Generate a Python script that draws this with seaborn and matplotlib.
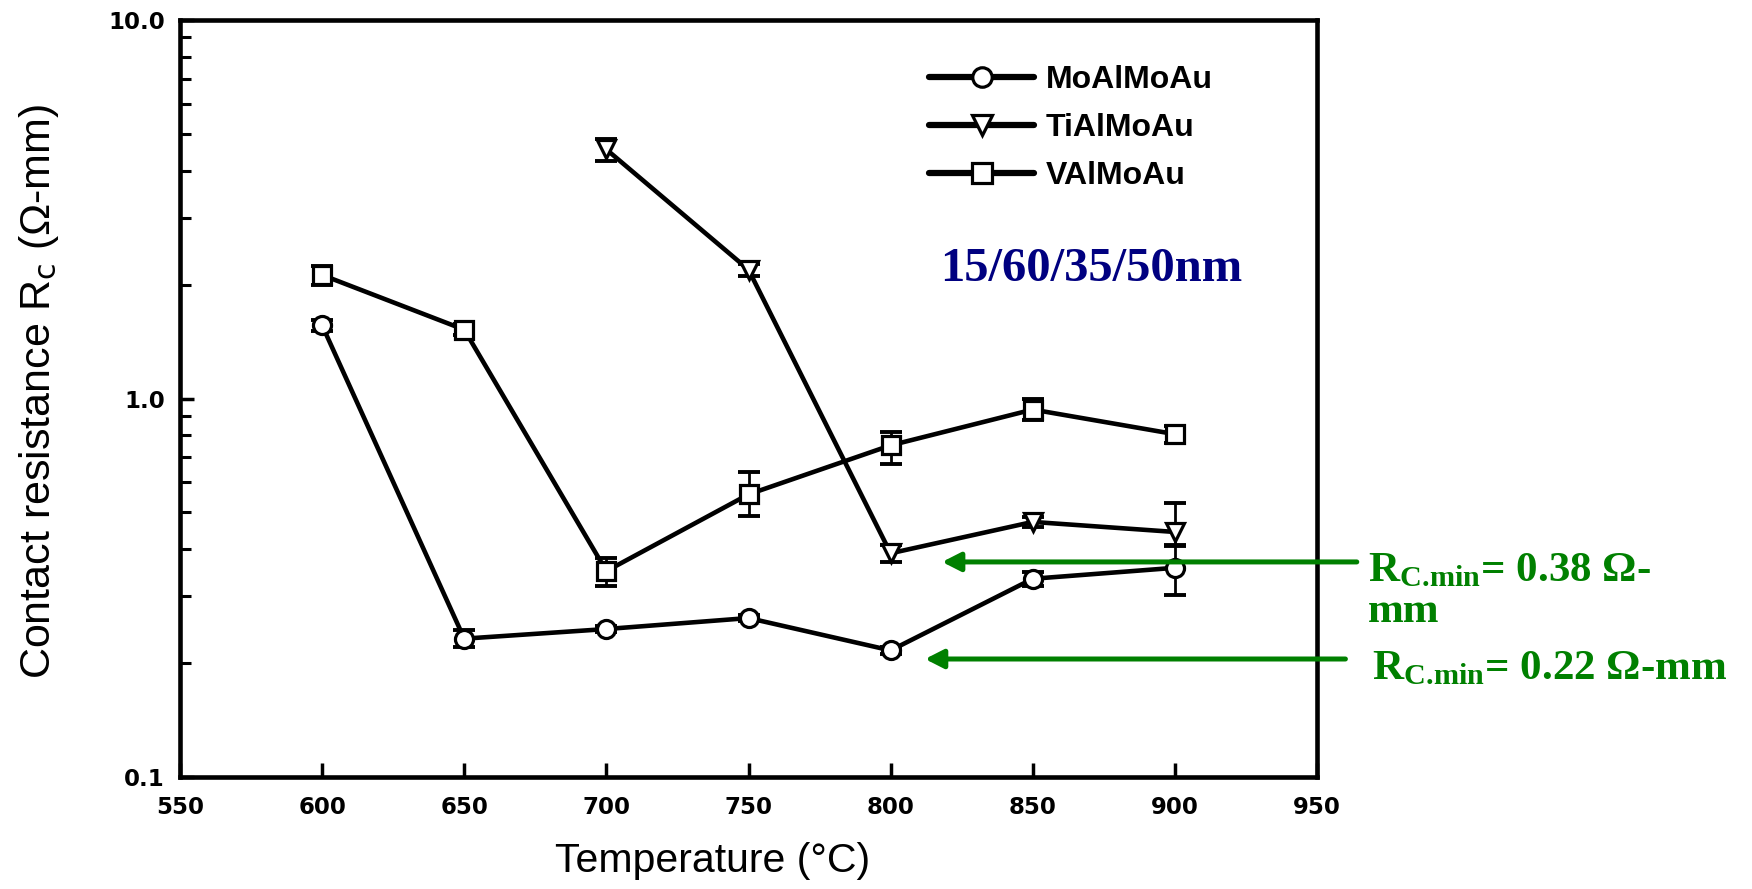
import numpy as np
import pandas as pd
import matplotlib
matplotlib.use("Agg")
import matplotlib.pyplot as plt
import seaborn as sns
from matplotlib.ticker import LogLocator, NullFormatter, FixedLocator, FixedFormatter

# ---- data ----
temps_mo = [600, 650, 700, 750, 800, 850, 900]
rc_mo = [1.56, 0.232, 0.246, 0.263, 0.216, 0.334, 0.357]
err_lo_mo = [0.05, 0.012, 0.005, 0.005, 0.005, 0.015, 0.055]
err_hi_mo = [0.05, 0.012, 0.005, 0.005, 0.005, 0.015, 0.05]

temps_ti = [700, 750, 800, 850, 900]
rc_ti = [4.55, 2.19, 0.390, 0.472, 0.444]
err_lo_ti = [0.3, 0.08, 0.02, 0.015, 0.035]
err_hi_ti = [0.3, 0.08, 0.02, 0.015, 0.085]

temps_v = [600, 650, 700, 750, 800, 850, 900]
rc_v = [2.12, 1.52, 0.350, 0.558, 0.752, 0.935, 0.805]
err_lo_v = [0.12, 0.05, 0.03, 0.07, 0.08, 0.06, 0.04]
err_hi_v = [0.12, 0.05, 0.03, 0.08, 0.065, 0.065, 0.04]

series_names = ["MoAlMoAu", "TiAlMoAu", "VAlMoAu"]
x_ticks = [550, 600, 650, 700, 750, 800, 850, 900, 950]
y_ticks = [0.1, 1.0, 10.0]
y_ticklabels = ["0.1", "1.0", "10.0"]

df = pd.concat([
    pd.DataFrame({"T": temps_mo, "Rc": rc_mo, "lo": err_lo_mo, "hi": err_hi_mo, "alloy": series_names[0]}),
    pd.DataFrame({"T": temps_ti, "Rc": rc_ti, "lo": err_lo_ti, "hi": err_hi_ti, "alloy": series_names[1]}),
    pd.DataFrame({"T": temps_v, "Rc": rc_v, "lo": err_lo_v, "hi": err_hi_v, "alloy": series_names[2]}),
], ignore_index=True)

# ---- style ----
sns.set_theme(style="ticks")
plt.rcParams["font.family"] = ["Liberation Sans", "DejaVu Sans"]
plt.rcParams["text.color"] = "black"
plt.rcParams["axes.labelcolor"] = "black"
plt.rcParams["xtick.color"] = "black"
plt.rcParams["ytick.color"] = "black"
plt.rcParams["mathtext.fontset"] = "custom"
plt.rcParams["mathtext.rm"] = "Liberation Serif:bold"
plt.rcParams["mathtext.it"] = "Liberation Serif:bold"
plt.rcParams["mathtext.bf"] = "Liberation Serif:bold"

fig = plt.figure(figsize=(17.52, 8.89), dpi=100)
ax = fig.add_axes([180 / 1752, 1 - 777 / 889, (1317 - 180) / 1752, (777 - 20) / 889])

markers = {"MoAlMoAu": "o", "TiAlMoAu": "v", "VAlMoAu": "s"}
palette = {n: "black" for n in series_names}

# error bars first (under markers)
for name in series_names:
    d = df[df["alloy"] == name]
    ax.errorbar(d["T"], d["Rc"], yerr=[d["lo"], d["hi"]], fmt="none",
                ecolor="black", elinewidth=2.0, capsize=8, capthick=2.8, zorder=2)

sns.lineplot(data=df, x="T", y="Rc", hue="alloy", style="alloy",
             hue_order=series_names, style_order=series_names,
             palette=palette, markers=markers, dashes=False,
             linewidth=3.3, markersize=13, markerfacecolor="white",
             markeredgecolor="black", markeredgewidth=2.3,
             ax=ax, zorder=3, legend=True)

ax.set_yscale("log")
ax.set_xlim(550, 950)
ax.set_ylim(0.1, 10)

tick_font = dict(fontsize=16.5, fontweight="bold", fontfamily="DejaVu Sans")
ax.xaxis.set_major_locator(FixedLocator(x_ticks))
ax.set_xticklabels([str(t) for t in x_ticks], **tick_font)
ax.yaxis.set_major_locator(FixedLocator(y_ticks))
ax.yaxis.set_major_formatter(FixedFormatter(y_ticklabels))
ax.yaxis.set_minor_locator(LogLocator(base=10, subs=np.arange(2, 10)))
ax.yaxis.set_minor_formatter(NullFormatter())
for lab in ax.get_yticklabels():
    lab.set_fontsize(16.5)
    lab.set_fontweight("bold")
    lab.set_fontfamily("DejaVu Sans")

ax.tick_params(axis="both", which="major", direction="in", length=10, width=2.5,
               top=False, right=False, colors="black")
ax.tick_params(axis="y", which="major", pad=11)
ax.tick_params(axis="x", which="major", pad=14)
ax.tick_params(axis="y", which="minor", direction="in", length=8, width=2.2, right=False)

for s in ax.spines.values():
    s.set_linewidth(3.3)
    s.set_color("black")

ax.set_xlabel("Temperature (°C)", fontsize=29.5)
ax.xaxis.set_label_coords(0.468, -0.086)
ax.set_ylabel(r"Contact resistance R$_{\rm c}$ (Ω-mm)", fontsize=31)
ax.yaxis.label.set_math_fontfamily("dejavusans")
ax.yaxis.set_label_coords(-0.124, 0.51)
ax.yaxis.label.set_va("center")

# legend
leg = ax.legend(loc="upper left", bbox_to_anchor=(929 / 1752, 1 - 65 / 889),
                bbox_transform=fig.transFigure, frameon=False, fontsize=23,
                handlelength=3.3, handletextpad=0.35, labelspacing=0.56,
                borderpad=0, borderaxespad=0, title=None)
for t in leg.get_texts():
    t.set_fontweight("bold")
    t.set_color("black")
for h in leg.legend_handles:
    h.set_linewidth(4.5)
    h.set_markersize(14)

# annotations
ax.text(940, 889 - 281, "15/60/35/50nm", transform=None, fontsize=35,
        fontfamily="Liberation Serif", fontweight="bold", color="#000080",
        va="baseline", ha="left")

green = "#008000"
arrow_style = dict(arrowstyle="-|>,head_length=0.55,head_width=0.28",
                   color=green, lw=3.6, mutation_scale=20, shrinkA=0, shrinkB=0)
ax.annotate("", xy=(818.1, 0.37), xytext=(964, 0.37),
            arrowprops=arrow_style, annotation_clip=False)
ax.annotate("", xy=(812.1, 0.205), xytext=(960, 0.205),
            arrowprops=arrow_style, annotation_clip=False)

tkw = dict(transform=None, fontsize=31, fontfamily="Liberation Serif",
           fontweight="bold", color=green, va="baseline", ha="left")
ax.text(1368, 889 - 581, r"$\mathrm{R}_{\mathrm{C.\!min}}$= 0.38 Ω-", **tkw)
ax.text(1368, 889 - 622, "mm", **tkw)
ax.text(1372, 889 - 679, r"$\mathrm{R}_{\mathrm{C.\!min}}$= 0.22 Ω-mm", **tkw)

fig.savefig("out.png", dpi=100)
